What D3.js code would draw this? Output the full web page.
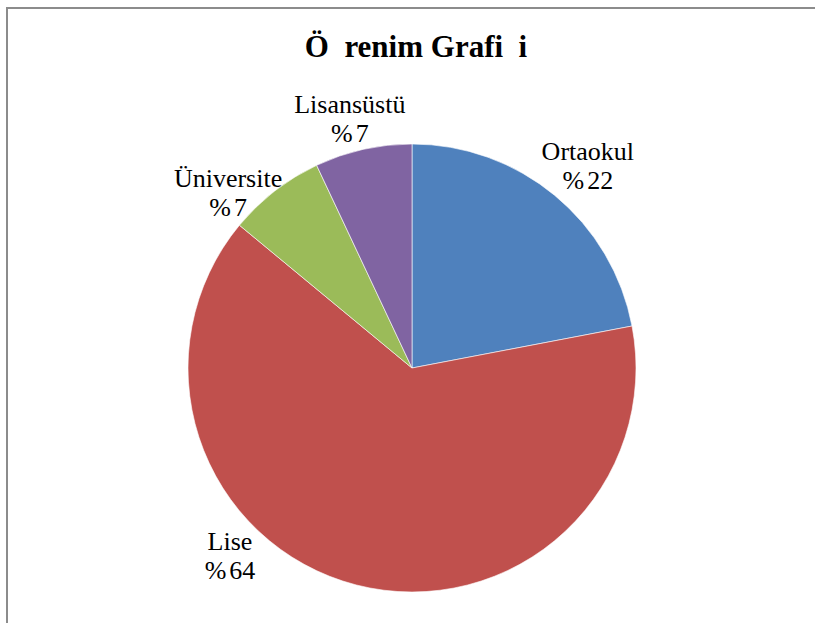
<!DOCTYPE html>
<html>
<head>
<meta charset="utf-8">
<script src="https://cdn.jsdelivr.net/npm/d3@7"></script>
<style>
  body { margin: 0; background: #fff; }
</style>
</head>
<body>
<div class="piechart"></div>
<script>
const categories = ['Ortaokul', 'Lise', 'Üniversite', 'Lisansüstü'];
const values = [22, 64, 7, 7];
const colors = ['#4F81BD', '#C0504D', '#9BBB59', '#8064A2'];
const title = 'Ö  renim Grafi  i';

// where Excel's "best fit" dropped each label (angle in degrees, distance from centre)
const labelPlacement = [[41, 268], [224, 262], [313.6, 254], [346, 257]];

const serif = 'Liberation Serif, Times New Roman, Times, serif';
const width = 815, height = 623,
  cx = 412, cy = 368, radius = 224;

const svg = d3.select('.piechart').append('svg')
  .attr('width', width).attr('height', height);

svg.append('rect')
  .attr('x', 7).attr('y', 8)
  .attr('width', 900).attr('height', 700)
  .attr('fill', 'none')
  .attr('stroke', '#8c8c8c')
  .attr('stroke-width', 2);

svg.append('text')
  .attr('x', 416).attr('y', 57)
  .attr('text-anchor', 'middle')
  .attr('font-family', serif)
  .attr('font-size', 31)
  .attr('font-weight', 'bold')
  .style('white-space', 'pre')
  .text(title);

const data = categories.map(function(c, i) { return { name: c, value: values[i], color: colors[i], i: i }; });

const pie = d3.pie().sort(null).value(function(d) { return d.value; });
const arc = d3.arc().innerRadius(0).outerRadius(radius);

const g = svg.append('g')
  .attr('transform', 'translate(' + cx + ',' + cy + ')');

g.selectAll('.slice')
  .data(pie(data))
  .enter().append('path')
  .attr('class', 'slice')
  .attr('d', arc)
  .attr('fill', function(d) { return d.data.color; })
  .attr('stroke', '#fff')
  .attr('stroke-width', 0.6);

const labels = g.selectAll('.label')
  .data(pie(data))
  .enter().append('text')
  .attr('class', 'label')
  .attr('text-anchor', 'middle')
  .attr('font-family', serif)
  .attr('font-size', 26)
  .attr('fill', '#000')
  .attr('transform', function(d) {
    const p = labelPlacement[d.data.i];
    const pt = d3.pointRadial(p[0] * Math.PI / 180, p[1]);
    return 'translate(' + pt[0] + ',' + pt[1] + ')';
  });

labels.append('tspan')
  .attr('x', 0).attr('y', -6)
  .text(function(d) { return d.data.name; });

const pct = labels.append('tspan')
  .attr('x', 0).attr('y', 23);
pct.append('tspan').text('%');
pct.append('tspan').attr('dx', 3).text(function(d) { return d.data.value; });
</script>
</body>
</html>
